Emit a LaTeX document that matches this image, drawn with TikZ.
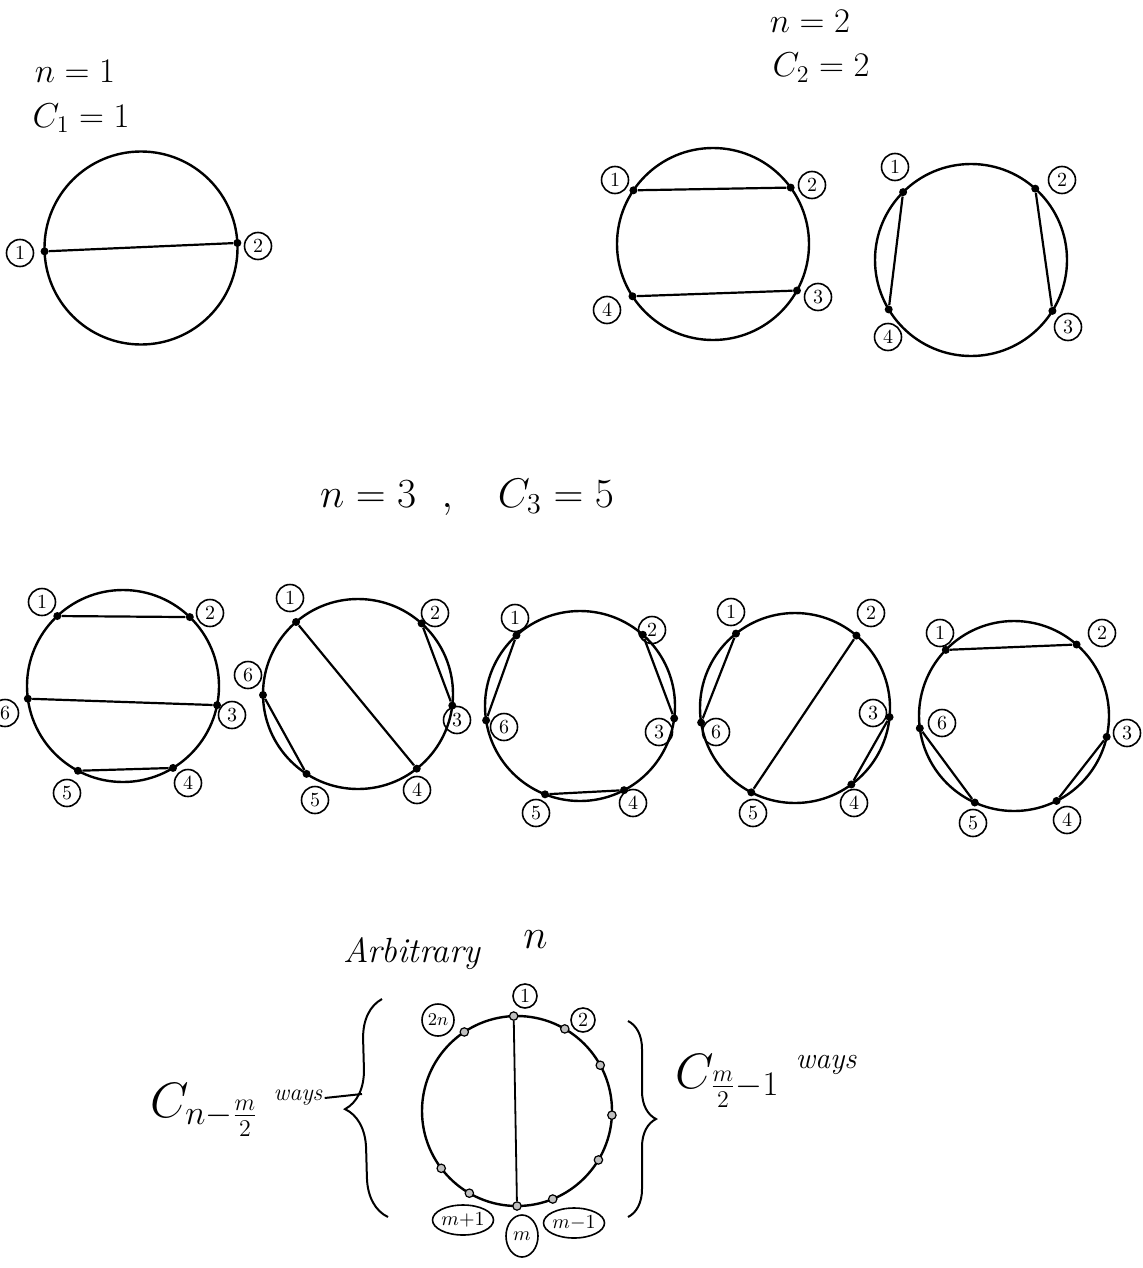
\documentclass[tikz,border=0pt]{standalone}
\usetikzlibrary{shapes.geometric,decorations.pathreplacing}
\begin{document}
\begin{tikzpicture}[x=0.5pt,y=-0.5pt,
 ring/.style={line width=1.2pt},
 chord/.style={line width=1.1pt},
 dot/.style={circle,fill=black,inner sep=0pt,minimum size=4pt},
 hdot/.style={circle,draw,fill=gray!50,inner sep=0pt,minimum size=4.2pt,line width=0.6pt},
 lab/.style={circle,draw,line width=0.8pt,inner sep=0.4pt,minimum size=13.5pt,font=\fontsize{10}{12}\selectfont},
 elab/.style={ellipse,draw,line width=0.8pt,inner sep=0pt,font=\fontsize{10}{12}\selectfont},
 ttl/.style={anchor=base,font=\fontsize{17}{20}\selectfont},
 brc/.style={decorate,line width=1pt}]
\useasboundingbox (0,0) rectangle (1142,1268);

% ---------- n = 1 ----------
\node[ttl] (t1a) at (75,83) {$n=1$};
\node[ttl] (t1b) at (81,127) {$C_1=1$};
\coordinate (c1) at (141,248);
\draw[ring] (c1) circle[radius=96.5];
\foreach \a [count=\i] in {178,357} \path (c1) ++(\a:96.5) node[dot] (o\i) {};
\draw[chord] (o1) -- (o2);
\node[lab] (lo1) at (20,253) {1};
\node[lab] (lo2) at (258,246) {2};

% ---------- n = 2 ----------
\node[ttl] (t2a) at (810,33) {$n=2$};
\node[ttl] (t2b) at (821,77) {$C_2=2$};
\coordinate (c2a) at (713,244);
\draw[ring] (c2a) circle[radius=96];
\foreach \a [count=\i] in {214,324,29,147} \path (c2a) ++(\a:96) node[dot] (a\i) {};
\draw[chord] (a1) -- (a2);
\draw[chord] (a4) -- (a3);
\node[lab] (la1) at (615,180) {1};
\node[lab] (la2) at (812,185) {2};
\node[lab] (la3) at (818,297) {3};
\node[lab] (la4) at (607,310) {4};

\coordinate (c2b) at (971,260);
\draw[ring] (c2b) circle[radius=96];
\foreach \a [count=\i] in {225,312,32,149} \path (c2b) ++(\a:96) node[dot] (b\i) {};
\draw[chord] (b1) -- (b4);
\draw[chord] (b2) -- (b3);
\node[lab] (lb1) at (895,167) {1};
\node[lab] (lb2) at (1062,180) {2};
\node[lab] (lb3) at (1068,327) {3};
\node[lab] (lb4) at (888,337) {4};

% ---------- n = 3 ----------
\node[anchor=base,font=\fontsize{21}{24}\selectfont] (t3) at (467,507) {$n=3\ \ ,\ \ \ C_3=5$};

% circle 1
\coordinate (d) at (123,686);
\draw[ring] (d) circle[radius=96];
\foreach \a [count=\i] in {226.8,314.1,11.5,58.6,118,172.4} \path (d) ++(\a:96) node[dot] (d\i) {};
\draw[chord] (d1) -- (d2);
\draw[chord] (d6) -- (d3);
\draw[chord] (d5) -- (d4);
\node[lab] (ld1) at (42,602) {1};
\node[lab] (ld2) at (210,613) {2};
\node[lab] (ld3) at (232,715) {3};
\node[lab] (ld4) at (188,783) {4};
\node[lab] (ld5) at (67,793) {5};
\node[lab] (ld6) at (5,713) {6};

% circle 2
\coordinate (e) at (358,694);
\draw[ring] (e) circle[radius=95];
\foreach \a [count=\i] in {229.3,312,7,51.8,122.8,179.4} \path (e) ++(\a:95) node[dot] (e\i) {};
\draw[chord] (e1) -- (e4);
\draw[chord] (e2) -- (e3);
\draw[chord] (e6) -- (e5);
\node[lab] (le1) at (290,598) {1};
\node[lab] (le2) at (435,613) {2};
\node[lab] (le3) at (457,720) {3};
\node[lab] (le4) at (417,790) {4};
\node[lab] (le5) at (315,800) {5};
\node[lab] (le6) at (248,675) {6};

% circle 3
\coordinate (f) at (580,706);
\draw[ring] (f) circle[radius=95];
\foreach \a [count=\i] in {228,311.4,7.5,62.4,111.6,171.3} \path (f) ++(\a:95) node[dot] (f\i) {};
\draw[chord] (f1) -- (f6);
\draw[chord] (f2) -- (f3);
\draw[chord] (f5) -- (f4);
\node[lab] (lf1) at (515,618) {1};
\node[lab] (lf2) at (652,630) {2};
\node[lab] (lf3) at (659,732) {3};
\node[lab] (lf4) at (633,803) {4};
\node[lab] (lf5) at (536,813) {5};
\node[lab] (lf6) at (504,727) {6};

% circle 4
\coordinate (g) at (795,708);
\draw[ring] (g) circle[radius=95];
\foreach \a [count=\i] in {231.6,310.3,5.5,53.6,117.4,171.2} \path (g) ++(\a:95) node[dot] (g\i) {};
\draw[chord] (g1) -- (g6);
\draw[chord] (g2) -- (g5);
\draw[chord] (g3) -- (g4);
\node[lab] (lg1) at (731,612) {1};
\node[lab] (lg2) at (871,613) {2};
\node[lab] (lg3) at (873,713) {3};
\node[lab] (lg4) at (854,803) {4};
\node[lab] (lg5) at (753,813) {5};
\node[lab] (lg6) at (716,732) {6};

% circle 5
\coordinate (h) at (1014,716);
\draw[ring] (h) circle[radius=95];
\foreach \a [count=\i] in {224.1,311.2,12.7,63.4,114.4,172.6} \path (h) ++(\a:95) node[dot] (h\i) {};
\draw[chord] (h1) -- (h2);
\draw[chord] (h6) -- (h5);
\draw[chord] (h3) -- (h4);
\node[lab] (lh1) at (940,633) {1};
\node[lab] (lh2) at (1102,633) {2};
\node[lab] (lh3) at (1127,733) {3};
\node[lab] (lh4) at (1067,820) {4};
\node[lab] (lh5) at (973,823) {5};
\node[lab] (lh6) at (942,723) {6};

% ---------- arbitrary n ----------
\node[anchor=base west,inner sep=0pt,font=\fontsize{17.5}{21}\selectfont] (t4a) at (343,962) {\textit{Arbitrary}};
\node[anchor=base west,inner sep=0pt,font=\fontsize{20}{24}\selectfont] (t4b) at (523,948) {$n$};
\coordinate (k) at (517,1111);
\draw[ring] (k) circle[radius=95];
\path (k) ++(268:95) node[hdot] (k1) {};
\path (k) ++(90:95) node[hdot] (km) {};
\foreach \a [count=\i] in {236.3,300.2,331.2,2.5,31,67.9,120.1,142.9} \path (k) ++(\a:95) node[hdot] (kx\i) {};
\draw[line width=0.9pt] (k1) -- (km);
\node[lab,minimum size=12pt] (lk1) at (525,996) {1};
\node[lab,minimum size=12pt] (lk2) at (583,1020) {2};
\node[lab,minimum size=16pt,font=\fontsize{9}{11}\selectfont] (lk2n) at (438,1020) {$2n$};
\node[elab,minimum height=15pt] (lkmp) at (463,1220) {$m{+}1$};
\node[elab,minimum height=21pt,minimum width=16pt] (lkm) at (522,1236) {$m$};
\node[elab,minimum height=15pt] (lkmm) at (574,1223) {$m{-}1$};

% braces
\coordinate (lbB) at (388,1217);
\coordinate (lbT) at (382,999);
\draw[brc,decoration={brace,amplitude=20pt}] (lbB) -- (lbT);
\coordinate (rbT) at (628,1021);
\coordinate (rbB) at (628,1217);
\draw[brc,decoration={brace,amplitude=14pt}] (rbT) -- (rbB);

% left formula
\node[anchor=base west,inner sep=0pt,font=\fontsize{25}{30}\selectfont] (lform) at (150,1117) {$C_{n-\frac{m}{2}}$};
\node[font=\fontsize{12}{14}\selectfont\itshape,inner sep=1pt] (lways) at (298,1098) {ways};
\coordinate (lst) at (362,1094);
\draw[line width=1pt] (lways.east) -- (lst);

% right formula
\node[anchor=base west,inner sep=0pt,font=\fontsize{24}{28}\selectfont] (rform) at (675,1088) {$C_{\frac{m}{2}-1}$};
\node[font=\fontsize{15}{18}\selectfont\itshape] (rways) at (826,1065) {ways};
\end{tikzpicture}
\end{document}
